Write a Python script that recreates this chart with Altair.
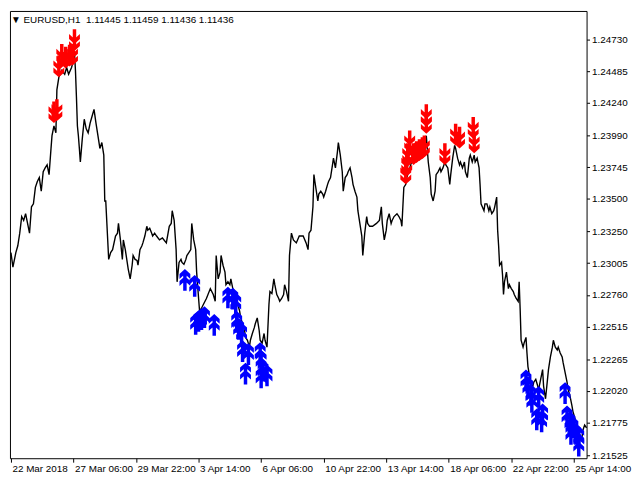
import altair as alt
import pandas as pd

# ---- price line (bar index, close) ----
seg1_bar = [3,5,8,10,12,14,16,18,20,22, 24,26,28,30,32,34,36,38,40,42,
            44,45,47,49,50,52,55,58,60,62, 65,67,68,69,70,71,72,73,74,76,
            78,80,82,84,86,88,90,92,94,96, 98,99]
seg1_px = [1.23086,1.22974,1.23086,1.23139,1.23236,1.23364,1.23334,1.23386,1.23311,1.23236,
           1.23439,1.23462,1.23589,1.23634,1.23664,1.23559,1.23709,1.23739,1.23762,1.23687,
           1.23889,1.23987,1.24062,1.24009,1.24340,1.24437,1.24490,1.24460,1.24512,1.24460,
           1.24512,1.24565,1.24625,1.24490,1.24287,1.24062,1.23987,1.23889,1.23784,1.23964,
           1.24114,1.24040,1.24009,1.24084,1.24137,1.24190,1.24084,1.23987,1.23889,1.23934,
           1.23837,1.23484]

seg2_bar = [100,102,103,105,107,110,112,113,115,117, 118,120,123,125,127,128,130,132,133,135,
            137,138,140,142,143,145,147,148,150,152, 155,158,162,165,167,168,170,172,173,175,
            177,178,180,182,183,185,187,188,190,192, 193,195,196,198]
seg2_px = [1.23484,1.23184,1.23034,1.23086,1.23109,1.23214,1.23236,1.23311,1.23184,1.23034,
           1.23184,1.23109,1.22959,1.22884,1.22989,1.23064,1.23034,1.23026,1.22989,1.23109,
           1.23139,1.23161,1.23214,1.23289,1.23259,1.23274,1.23236,1.23214,1.23236,1.23214,
           1.23184,1.23199,1.23161,1.23289,1.23311,1.23409,1.23334,1.23109,1.22861,1.23011,
           1.23034,1.23011,1.22996,1.23034,1.23064,1.23086,1.23109,1.23311,1.23184,1.23109,
           1.22936,1.22733,1.22636,1.22658]

seg3_bar = [200,203,207,210,212,213,215,217,218,220, 222,223,225,227,228,230,232,233,235,237,
            238,240,242,243,245,247,248,250,252,253, 255,257,258,260,262,263,265,267,268,270,
            272,273,275,277,278,280,282,283,285,287, 288,290,292,295,298]
seg3_px = [1.22688,1.22733,1.22809,1.22763,1.22711,1.23064,1.22884,1.22936,1.23064,1.22989,
           1.22936,1.22839,1.22861,1.22839,1.22884,1.22809,1.22786,1.22763,1.22688,1.22636,
           1.22583,1.22538,1.22486,1.22433,1.22411,1.22358,1.22411,1.22463,1.22508,1.22538,
           1.22583,1.22486,1.22411,1.22388,1.22463,1.22411,1.22358,1.22688,1.22786,1.22771,
           1.22884,1.22839,1.22763,1.22733,1.22711,1.22733,1.22763,1.22839,1.22786,1.22711,
           1.23064,1.23236,1.23184,1.23161,1.23214]

seg4_bar = [302,305,307,308,310,312,313,314,317,318, 320,322,323,325,327,328,330,332,333,335,
            337,338,340,342,343,345,347,348,350,352, 353,355,357,358,360,362,363,365,367,368,
            370,373,377,380,382,383,385,387,388,390, 392,393,395,398]
seg4_px = [1.23214,1.23161,1.23109,1.23236,1.23259,1.23439,1.23687,1.23634,1.23484,1.23537,
           1.23559,1.23537,1.23514,1.23559,1.23612,1.23634,1.23664,1.23762,1.23814,1.23739,
           1.23859,1.23934,1.23837,1.23709,1.23559,1.23664,1.23687,1.23709,1.23739,1.23664,
           1.23612,1.23559,1.23514,1.23409,1.23311,1.23214,1.23064,1.23236,1.23364,1.23311,
           1.23289,1.23289,1.23311,1.23334,1.23439,1.23311,1.23184,1.23259,1.23334,1.23386,
           1.23311,1.23334,1.23364,1.23386]

seg5_bar = [400,402,403,405,407,408,410,412,413,415, 417,418,420,423,425,427,428,430,432,433,
            435,437,438,440,442,443,445,447,448,450, 452,453,455,457,458,460,462,463,465,467,
            468,470,472,473,475,477,478,480,482,483, 484,487,488,490,492,493,495,497,498]
seg5_px = [1.23364,1.23334,1.23289,1.23589,1.23612,1.23664,1.23709,1.23762,1.23784,1.23784,
           1.23814,1.23822,1.23837,1.23814,1.23859,1.23912,1.23987,1.23784,1.23664,1.23537,
           1.23484,1.23559,1.23687,1.23709,1.23739,1.23709,1.23739,1.23784,1.23762,1.23739,
           1.23612,1.23687,1.23814,1.23912,1.23889,1.23814,1.23762,1.23784,1.23739,1.23784,
           1.23709,1.23664,1.23814,1.23837,1.23784,1.23837,1.23784,1.23814,1.23739,1.23612,
           1.23462,1.23409,1.23462,1.23462,1.23409,1.23439,1.23386,1.23409,1.23439]

seg6_bar = [500,501,502,503,505,506,507,508,510,512, 513,515,517,518,520,522,523,524,525,527,
            528,530,531,532,533,535,537,538,540,542, 543,545,547,548,550,552,553,555,557,558,
            560,562,563,565,567,568,570,572,573,575, 577,578,580,582,583,585,587,588,590,592]
seg6_px = [1.23514,1.23259,1.23139,1.22989,1.23011,1.22914,1.22763,1.22861,1.22936,1.22809,
           1.22839,1.22809,1.22786,1.22763,1.22733,1.22711,1.22861,1.22658,1.22411,1.22358,
           1.22388,1.22433,1.22313,1.22208,1.22163,1.22088,1.22058,1.22088,1.22110,1.22058,
           1.22035,1.22110,1.22185,1.22058,1.21960,1.22110,1.22185,1.22283,1.22358,1.22411,
           1.22358,1.22336,1.22358,1.22313,1.22283,1.22238,1.22163,1.22088,1.22035,1.21983,
           1.21908,1.21863,1.21810,1.21758,1.21713,1.21660,1.21638,1.21713,1.21758,1.21735]

# ---- sell signals (red, down arrows; price at arrow tip) ----
sell_bar = [47,50,52,55,59,63,66,68, 411,409,408,407, 415,418,421,424,426, 428,428, 447,458,462, 476,477]
sell_px = [1.24084,1.24100,1.24437,1.24527,1.24505,1.24520,1.24527,1.24640,
           1.23859,1.23762,1.23687,1.23612,
           1.23762,1.23777,1.23792,1.23807,1.23822,
           1.24062,1.24002,
           1.23762,1.23912,1.23889,
           1.23964,1.23852]

# ---- buy signals (blue, up arrows; price at arrow tip) ----
buy_bar = [181,191,192,195,198,201,211,225,230,233,234,236,239,240,246,243,258,259,261,265,259,
           530,532,535,536,543,541,547,546,570,572,575,578,576,581,584,584]
buy_px = [1.22959,1.22914,1.22621,1.22643,1.22658,1.22673,1.22613,1.22824,1.22816,1.22778,
          1.22636,1.22583,1.22546,1.22411,1.22388,1.22238,1.22396,1.22336,1.22261,1.22223,1.22208,
          1.22185,1.22133,1.22073,1.22020,1.22058,1.21885,1.21923,1.21870,1.22088,1.21908,
          1.21863,1.21825,1.21773,1.21773,1.21750,1.21683]

# ---- axes ----
x_ticks = [3, 67, 131, 195, 259, 323, 387, 451, 515, 579]
x_labels = ["22 Mar 2018", "27 Mar 06:00", "29 Mar 22:00", "3 Apr 14:00", "6 Apr 06:00",
            "10 Apr 22:00", "13 Apr 14:00", "18 Apr 06:00", "22 Apr 22:00", "25 Apr 14:00"]
y_ticks = [1.24730, 1.24485, 1.24240, 1.23990, 1.23745, 1.23500, 1.23250,
           1.23005, 1.22760, 1.22515, 1.22265, 1.22020, 1.21775, 1.21525]
header = "\u25BC\u00a0EURUSD,H1\u00a0\u00a01.11445 1.11459 1.11436 1.11436"

bars = seg1_bar + seg2_bar + seg3_bar + seg4_bar + seg5_bar + seg6_bar
prices = seg1_px + seg2_px + seg3_px + seg4_px + seg5_px + seg6_px
line_df = pd.DataFrame(list(zip(bars, prices)), columns=["bar", "price"])
sell_df = pd.DataFrame(list(zip(sell_bar, sell_px)), columns=["bar", "price"])
buy_df = pd.DataFrame(list(zip(buy_bar, buy_px)), columns=["bar", "price"])

FONT = "Liberation Sans"
x_scale = alt.Scale(domain=[2, 592], nice=False, zero=False)
y_scale = alt.Scale(domain=[1.21502, 1.24948], nice=False, zero=False)

label_expr = ("[" + ",".join("'%s'" % s for s in x_labels) + "][indexof(["
              + ",".join(str(t) for t in x_ticks) + "], datum.value)]")

x_axis = alt.Axis(values=x_ticks, tickCount=40, labelExpr=label_expr, title=None, grid=False,
                  domain=False, tickSize=4, tickColor="black", labelAlign="left",
                  labelBaseline="top", labelPadding=1, labelOffset=1, labelFont=FONT,
                  labelFontSize=10, labelColor="black", labelOverlap=False, labelBound=False,
                  labelFlush=False)
y_axis = alt.Axis(orient="right", values=y_ticks, tickCount=40, format=".5f", title=None,
                  grid=False, domain=False, tickSize=3, tickColor="black", labelPadding=2,
                  labelFont=FONT, labelFontSize=10, labelColor="black", labelOverlap=False,
                  labelFlush=False)

DOWN = ("M -0.16 -1 L 0.16 -1 L 0.16 0.7 L -0.16 0.7 Z "
        "M -0.5 -0.55 L 0 -0.1 L 0.5 -0.55 L 0.5 -0.1 L 0 0.35 L -0.5 -0.1 Z "
        "M -0.5 0.1 L 0 0.55 L 0.5 0.1 L 0.5 0.55 L 0 1 L -0.5 0.55 Z")
UP = ("M -0.16 1 L 0.16 1 L 0.16 -0.7 L -0.16 -0.7 Z "
      "M -0.5 0.55 L 0 0.1 L 0.5 0.55 L 0.5 0.1 L 0 -0.35 L -0.5 0.1 Z "
      "M -0.5 -0.1 L 0 -0.55 L 0.5 -0.1 L 0.5 -0.55 L 0 -1 L -0.5 -0.55 Z")

line = alt.Chart(line_df).mark_line(color="black", strokeWidth=1.4).encode(
    x=alt.X("bar:Q", scale=x_scale, axis=x_axis),
    y=alt.Y("price:Q", scale=y_scale, axis=y_axis),
)
sell = alt.Chart(sell_df).mark_point(shape=DOWN, filled=True, size=484, color="#FF0000",
                                     opacity=1, strokeWidth=0, yOffset=-11).encode(
    x=alt.X("bar:Q", scale=x_scale),
    y=alt.Y("price:Q", scale=y_scale),
)
buy = alt.Chart(buy_df).mark_point(shape=UP, filled=True, size=484, color="#0000FF",
                                   opacity=1, strokeWidth=0, yOffset=11).encode(
    x=alt.X("bar:Q", scale=x_scale),
    y=alt.Y("price:Q", scale=y_scale),
)
text = alt.Chart(pd.DataFrame({"t": [header]})).mark_text(
    align="left", baseline="middle", font=FONT, fontSize=10, color="black"
).encode(x=alt.value(1), y=alt.value(9), text="t:N")

chart = alt.layer(line, sell, buy, text).properties(
    width=584, height=453, padding=0, background="white"
).configure_view(stroke="black", strokeWidth=1)

chart.save("out.html", embed_options={"renderer": "svg", "actions": False})
